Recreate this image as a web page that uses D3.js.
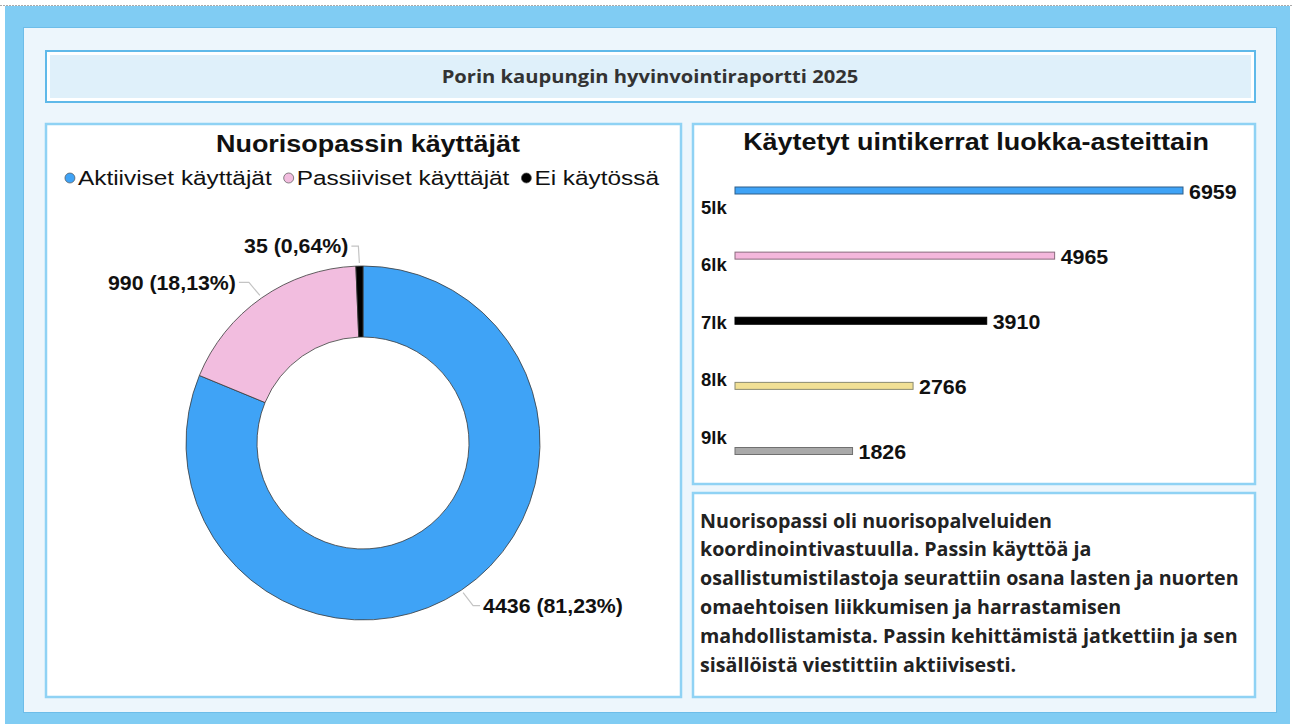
<!DOCTYPE html>
<html><head><meta charset="utf-8">
<script src="https://cdn.jsdelivr.net/npm/d3@7"></script>
<style>html,body{margin:0;padding:0;background:#fff;}svg{display:block;}</style>
</head><body>
<svg id="c" width="1292" height="724"></svg>
<script>
// ---- data ----
const reportTitle = "Porin kaupungin hyvinvointiraportti 2025";
const donutTitle = "Nuorisopassin käyttäjät";
const donutCategories = ["Aktiiviset käyttäjät", "Passiiviset käyttäjät", "Ei käytössä"];
const donutValues = [4436, 990, 35];
const donutPercentLabels = ["81,23%", "18,13%", "0,64%"];
const donutColors = ["#3fa3f6", "#f2bddf", "#000000"];

const barTitle = "Käytetyt uintikerrat luokka-asteittain";
const barCategories = ["5lk", "6lk", "7lk", "8lk", "9lk"];
const barValues = [6959, 4965, 3910, 2766, 1826];
const barColors = ["#3fa3f6", "#f4b7dc", "#000000", "#f1e095", "#a9a9a9"];
const barStrokes = ["#2f5f8a", "#8a6a7d", "#000000", "#8a8a70", "#707070"];

const paragraphLines = [
  "Nuorisopassi oli nuorisopalveluiden",
  "koordinointivastuulla. Passin käyttöä ja",
  "osallistumistilastoja seurattiin osana lasten ja nuorten",
  "omaehtoisen liikkumisen ja harrastamisen",
  "mahdollistamista. Passin kehittämistä jatkettiin ja sen",
  "sisällöistä viestittiin aktiivisesti."
];

const svg = d3.select("#c");
const ARIAL = "'Liberation Sans', Arial, sans-serif";
const SEGOE = "'Open Sans', 'Noto Sans', sans-serif";

// horizontally stretch a text (anchored at its x) by factor sx
function stretch(t, sx){
  const x0 = +t.attr("x"), y0 = +t.attr("y");
  t.attr("transform", `translate(${x0},${y0}) scale(${sx},1) translate(${-x0},${-y0})`);
  return t;
}

// ---- frames ----
svg.append("line").attr("x1",0).attr("x2",1292).attr("y1",5.5).attr("y2",5.5)
  .attr("stroke","#aaa").attr("stroke-dasharray","2,1");
svg.append("rect").attr("x",5).attr("y",6).attr("width",1285).attr("height",718).attr("fill","#80ccf3");
svg.append("rect").attr("x",23.5).attr("y",27.5).attr("width",1253).attr("height",685)
  .attr("fill","#edf6fc").attr("stroke","#6dbde9").attr("stroke-width",1);

// title box
svg.append("rect").attr("x",46).attr("y",51).attr("width",1209).attr("height",51)
  .attr("fill","#ffffff").attr("stroke","#5fb9e9").attr("stroke-width",2);
svg.append("rect").attr("x",50).attr("y",55).attr("width",1201).attr("height",43).attr("fill","#dff0fa");
const rt = svg.append("text").attr("x",650).attr("y",76).attr("text-anchor","middle").attr("dominant-baseline","central")
  .attr("font-family",SEGOE).attr("font-weight",700).attr("font-size",17).attr("fill","#333")
  .text(reportTitle);
stretch(rt, 417 / rt.node().getComputedTextLength());

function panel(x,y,w,h){
  svg.append("rect").attr("x",x).attr("y",y).attr("width",w).attr("height",h)
    .attr("fill","#fff").attr("stroke","#8fd2f4").attr("stroke-width",2.5);
}
panel(46,124,635,573);
panel(693,124,562,360);
panel(693,493,562,204);

// ---- donut ----
const cx = 363, cy = 443, R = 177, r0 = 106;
stretch(svg.append("text").attr("x",368).attr("y",143).attr("text-anchor","middle").attr("dominant-baseline","central")
  .attr("font-family",ARIAL).attr("font-weight",700).attr("font-size",24.5).attr("fill","#111").text(donutTitle), 1.1);

// legend
const lg = svg.append("g");
let lx = 0;
const LS = 1.19, GAP = 12;
donutCategories.forEach((c,i)=>{
  const g = lg.append("g");
  g.append("circle").attr("cx",5).attr("cy",0).attr("r",5).attr("fill",donutColors[i]).attr("stroke","#555").attr("stroke-width",0.7);
  const t = g.append("text").attr("x",13).attr("y",0).attr("dominant-baseline","central")
    .attr("font-family",ARIAL).attr("font-size",20.5).attr("fill","#111").text(c);
  stretch(t, LS);
  const w = 13 + t.node().getComputedTextLength()*LS;
  g.attr("transform",`translate(${lx},0)`);
  lx += w + GAP;
});
lx -= GAP;
lg.attr("transform",`translate(${362 - lx/2},178)`);

const pie = d3.pie().sort(null).value(d=>d)(donutValues);
const arc = d3.arc().innerRadius(r0).outerRadius(R);
const dg = svg.append("g").attr("transform",`translate(${cx},${cy})`);
dg.selectAll("path").data(pie).join("path").attr("d",arc)
  .attr("fill",(d,i)=>donutColors[i]).attr("stroke","#3a3a3a").attr("stroke-width",0.8);

// labels with leader lines
const lblFmt = (i)=>`${donutValues[i]} (${donutPercentLabels[i]})`;
pie.forEach((p,i)=>{
  const mid = (p.startAngle+p.endAngle)/2;
  const sx = Math.sin(mid), sy = -Math.cos(mid);
  const ax = cx + sx*(R+3), ay = cy + sy*(R+3);
  let pts, tx, ty, anchor;
  if(i===0){
    const bx = ax + 10, by = ay + 13;
    pts = [[ax,ay],[bx,by],[bx+7,by]]; tx = bx+10; ty = by; anchor="start";
  } else if(i===1){
    const bx = ax - 11, by = ay - 13;
    pts = [[ax,ay],[bx,by],[bx-10,by]]; tx = bx-13; ty = by; anchor="end";
  } else {
    const bx = ax - 1, by = ay - 17;
    pts = [[ax,ay],[bx,by],[bx-7,by]]; tx = bx-10; ty = by; anchor="end";
  }
  svg.append("path").attr("d",d3.line()(pts)).attr("fill","none").attr("stroke","#c4c4c4").attr("stroke-width",1.2);
  stretch(svg.append("text").attr("x",tx).attr("y",ty).attr("text-anchor",anchor).attr("dominant-baseline","central")
    .attr("font-family",ARIAL).attr("font-weight",700).attr("font-size",20.5).attr("fill","#111").text(lblFmt(i)), 1.04);
});

// ---- bar chart ----
stretch(svg.append("text").attr("x",976).attr("y",141).attr("text-anchor","middle").attr("dominant-baseline","central")
  .attr("font-family",ARIAL).attr("font-weight",700).attr("font-size",24.5).attr("fill","#111").text(barTitle), 1.1);

const x = d3.scaleLinear().domain([0, 6959]).range([735, 1183]);
const yBar = d3.scalePoint().domain(barCategories).range([190.5, 451]);
const yLab = d3.scalePoint().domain(barCategories).range([207, 437]);
const bh = 7;
svg.selectAll("rect.bar").data(barValues).join("rect").attr("class","bar")
  .attr("x",x(0)).attr("y",(d,i)=>yBar(barCategories[i])-bh/2)
  .attr("width",d=>x(d)-x(0)).attr("height",bh)
  .attr("fill",(d,i)=>barColors[i]).attr("stroke",(d,i)=>barStrokes[i]).attr("stroke-width",1);
svg.selectAll("text.val").data(barValues).join("text").attr("class","val")
  .attr("x",d=>x(d)+6).attr("y",(d,i)=>yBar(barCategories[i])+1).attr("dominant-baseline","central")
  .attr("font-family",ARIAL).attr("font-weight",700).attr("font-size",20).attr("fill","#111").text(d=>d)
  .each(function(){ stretch(d3.select(this), 1.07); });
svg.selectAll("text.cat").data(barCategories).join("text").attr("class","cat")
  .attr("x",701).attr("y",d=>yLab(d)).attr("dominant-baseline","central")
  .attr("font-family",ARIAL).attr("font-weight",700).attr("font-size",18.5).attr("fill","#111").text(d=>d);

// ---- paragraph ----
const pg = svg.append("g");
const pts = paragraphLines.map((l,i)=>pg.append("text").attr("x",700).attr("y",520 + i*28.9)
  .attr("dominant-baseline","central").attr("font-family",SEGOE).attr("font-weight",700)
  .attr("font-size",17).attr("fill","#222").text(l));
const w3 = pts[2].node().getComputedTextLength();
const fs = 17 * 539 / w3;
pts.forEach(t=>t.attr("font-size",fs));
</script>
</body></html>
